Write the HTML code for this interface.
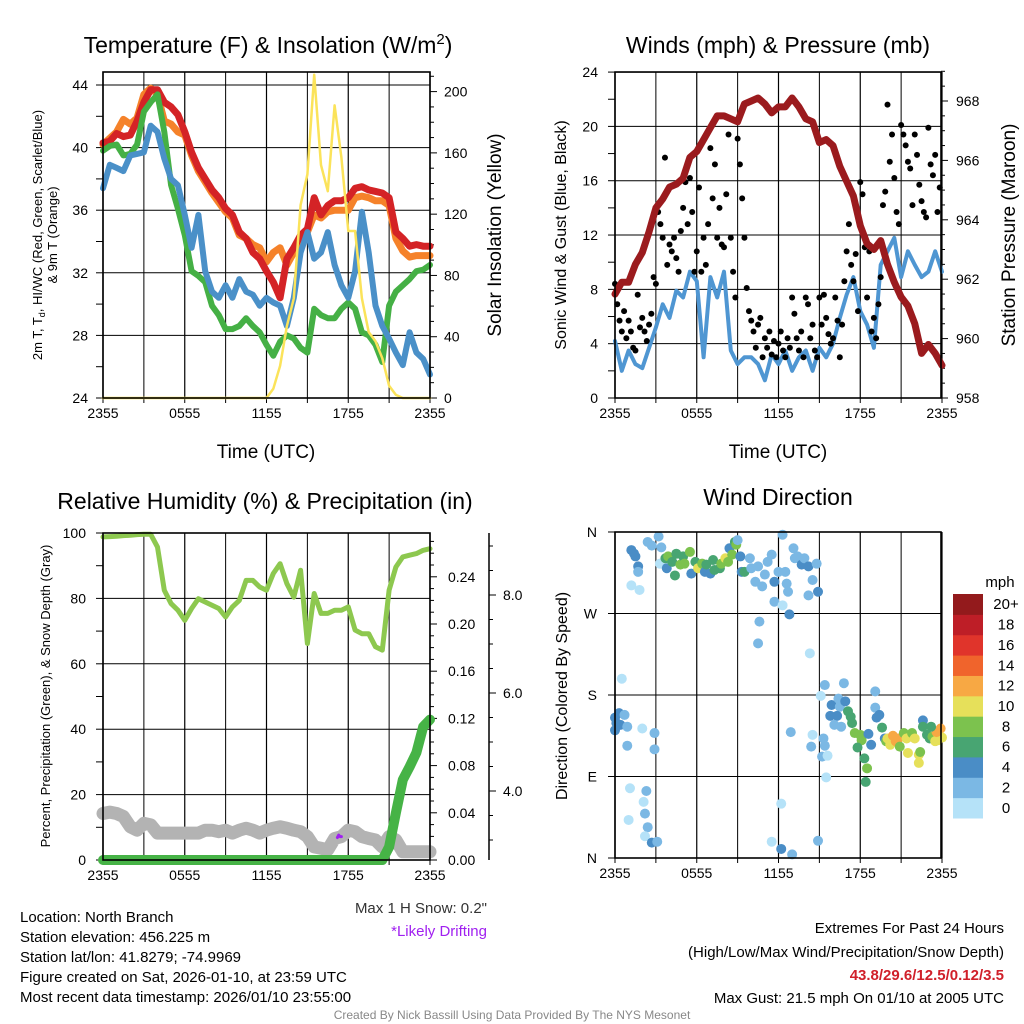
<!DOCTYPE html>
<html><head><meta charset="utf-8"><style>
html,body{margin:0;padding:0;background:#fff}
svg{display:block}
text{font-family:"Liberation Sans",Arial,sans-serif;fill:#000}
</style></head><body>
<svg id="fig" width="1024" height="1024" viewBox="0 0 1024 1024" xmlns="http://www.w3.org/2000/svg">
<g id="static">
<text x="268" y="53" font-size="23" text-anchor="middle">Temperature (F) &amp; Insolation (W/m<tspan dy="-9" font-size="15">2</tspan><tspan dy="9">)</tspan></text>
<text x="778" y="53" font-size="23" text-anchor="middle">Winds (mph) &amp; Pressure (mb)</text>
<text x="265" y="509" font-size="23" text-anchor="middle">Relative Humidity (%) &amp; Precipitation (in)</text>
<text x="778" y="505" font-size="23" text-anchor="middle">Wind Direction</text>
<text x="266" y="458" font-size="19" text-anchor="middle">Time (UTC)</text>
<text x="778" y="458" font-size="19" text-anchor="middle">Time (UTC)</text>
<text transform="translate(501,235) rotate(-90)" font-size="19" text-anchor="middle">Solar Insolation (Yellow)</text>
<text transform="translate(1015,235) rotate(-90)" font-size="19" text-anchor="middle">Station Pressure (Maroon)</text>
<text transform="translate(566,235) rotate(-90)" font-size="16" text-anchor="middle">Sonic Wind &amp; Gust (Blue, Black)</text>
<text transform="translate(42,235) rotate(-90)" font-size="13" text-anchor="middle">2m T, T<tspan dy="3" font-size="9">d</tspan><tspan dy="-3">, HI/WC (Red, Green, Scarlet/Blue)</tspan></text>
<text transform="translate(57,235) rotate(-90)" font-size="13" text-anchor="middle">&amp; 9m T (Orange)</text>
<text transform="translate(50,696) rotate(-90)" font-size="13" text-anchor="middle">Percent, Precipitation (Green), &amp; Snow Depth (Gray)</text>
<text transform="translate(567,696) rotate(-90)" font-size="16" text-anchor="middle">Direction (Colored By Speed)</text>
<text x="1000" y="587" font-size="15" text-anchor="middle">mph</text>
<text x="487" y="913" font-size="15" text-anchor="end" style="fill:#333">Max 1 H Snow: 0.2"</text>
<text x="487" y="936" font-size="15" text-anchor="end" style="fill:#a020f0">*Likely Drifting</text>
<g font-size="15">
<text x="20" y="922">Location: North Branch</text>
<text x="20" y="942">Station elevation: 456.225 m</text>
<text x="20" y="962">Station lat/lon: 41.8279; -74.9969</text>
<text x="20" y="982">Figure created on Sat, 2026-01-10, at 23:59 UTC</text>
<text x="20" y="1002">Most recent data timestamp: 2026/01/10 23:55:00</text>
</g>
<g font-size="15" text-anchor="end">
<text x="1004" y="933">Extremes For Past 24 Hours</text>
<text x="1004" y="957">(High/Low/Max Wind/Precipitation/Snow Depth)</text>
<text x="1004" y="980" font-weight="bold" style="fill:#d0202a">43.8/29.6/12.5/0.12/3.5</text>
<text x="1004" y="1003">Max Gust: 21.5 mph On 01/10 at 2005 UTC</text>
</g>
<text x="512" y="1019" font-size="12" text-anchor="middle" style="fill:#888">Created By Nick Bassill Using Data Provided By The NYS Mesonet</text>
</g>
</svg>
<script>
// ---------- data ----------
const t30 = []; // half-hour time axis built below (hours since 2355)
const xTickLabels = ["2355","0555","1155","1755","2355"];
const tempRed = [40.3,40.4,40.9,40.7,40.8,41.7,42.9,43.7,43.7,42.9,42.6,42.1,41.0,39.7,38.7,38.0,37.3,36.8,36.1,35.7,34.6,34.2,33.3,32.9,32.1,31.4,30.4,32.9,33.6,34.4,34.8,36.8,35.7,36.3,36.6,36.6,36.8,37.4,37.5,37.3,37.2,37.1,36.8,34.6,34.2,33.7,33.8,33.7,33.7];
const temp9m = [40.2,40.6,41.0,41.8,41.5,41.9,43.4,43.8,43.4,41.7,41.5,41.0,40.8,39.5,38.5,37.8,37.1,36.5,35.9,35.5,34.4,34.2,33.8,33.6,32.7,33.3,33.6,32.5,33.3,34.2,34.6,35.7,35.5,35.9,36.0,36.0,36.0,36.8,36.9,36.8,36.6,36.6,36.3,34.2,33.4,33.0,33.1,33.1,33.1];
const dewpoint = [39.8,40.1,40.2,39.5,39.6,40.2,42.3,42.9,43.4,41.0,37.6,36.1,34.4,32.1,31.8,31.4,29.9,29.3,28.4,28.4,28.6,29.1,28.6,28.2,27.4,26.7,27.6,28.0,27.8,27.2,26.9,29.7,29.3,29.1,29.1,29.7,30.1,29.7,28.2,28.0,27.4,26.3,29.9,30.8,31.2,31.6,32.1,32.2,32.5];
const windChill = [37.4,38.9,38.7,38.5,39.5,39.6,39.7,41.4,41.0,39.3,38.0,37.6,35.7,33.6,35.7,32.1,30.8,30.4,31.2,30.4,31.6,30.8,30.6,29.9,30.4,30.1,29.9,28.6,30.4,33.3,34.6,32.9,33.3,34.6,32.5,31.2,30.4,32.1,35.9,33.3,29.9,28.6,27.8,26.9,26.1,28.2,26.9,26.5,25.5];
const solar = [0,0,0,0,0,0,0,0,0,0,0,0,0,0,0,0,0,0,0,0,0,0,0,0,0,6,21,47,65,126,146,211,152,135,191,157,109,109,65,43,37,26,8,2,0,0,0,0,0];
const pressure = [961.5,961.9,961.9,962.5,962.9,963.6,964.4,964.7,965.1,965.2,965.4,966.1,966.3,966.7,967.1,967.5,967.5,967.4,967.3,967.9,968.0,968.1,967.9,967.6,967.8,967.8,968.1,967.8,967.4,967.3,966.6,966.7,966.5,965.8,965.3,964.8,963.8,963.2,963.0,963.3,962.5,961.9,961.4,961.1,960.5,959.5,959.8,959.5,959.1];
const sonicWind = [4.2,2.0,3.5,2.5,2.2,3.7,5.2,6.9,5.9,7.9,7.4,9.3,8.6,3.0,8.9,7.4,9.3,3.5,2.5,3.0,3.0,2.5,1.3,3.2,2.5,3.5,2.0,3.0,3.5,2.0,3.7,3.0,4.0,5.9,7.6,8.9,6.4,5.4,3.7,9.8,10.8,11.8,8.9,10.8,9.8,8.9,9.3,10.8,9.3];
const gust = [8.4,6.9,5.7,4.9,6.4,4.4, 5.7,4.9,3.7,3.5,7.6,5.2, 5.9,4.9,4.2,5.4,6.2,8.9, 8.4,13.7,12.8,11.8,17.7,9.8, 11.3,10.8,11.8,10.3,9.3,12.3, 14.0,15.9,12.8,16.2,13.7,9.3, 10.8,15.5,9.3,11.8,9.8,12.8, 18.4,14.7,17.2,11.8,14.0,11.3, 11.1,15.0,19.4,11.8,9.3,7.4, 19.1,17.2,14.7,11.8,8.1,6.4, 5.7,4.9,3.7,5.4,5.9,3.0, 4.4,3.7,4.9,3.2,4.2,3.0, 4.0,4.9,3.5,3.0,4.4,3.7, 7.4,6.2,4.4,3.5,4.9,3.0, 7.4,6.9,4.4,5.4,3.5,3.0, 7.4,5.4,7.6,5.9,4.7,4.0, 4.4,7.4,5.7,3.0,5.4,8.6, 10.8,12.8,9.8,8.6,10.6,6.4, 15.9,15.0,11.1,7.4,10.8,4.9, 5.9,4.4,6.9,8.9,14.2,15.2, 21.6,17.4,19.4,16.2,13.7,12.8, 20.1,19.4,18.6,17.4,16.9,14.2, 19.4,17.9,15.7,14.5,13.7,13.3, 19.9,17.2,16.4,17.9,13.7,15.5];
const humidity = [98.8,98.9,99.0,99.2,99.3,99.5,99.6,99.6,95.7,82.5,78.4,76.4,73.3,76.9,79.9,78.9,77.9,76.9,74.3,77.4,79.4,85.5,85.5,83.5,82.5,87.6,90.6,84.5,80.4,88.6,66.2,81.5,75.4,75.4,76.4,76.4,77.4,70.3,69.2,69.2,65.2,64.2,82.5,89.6,92.7,93.2,93.7,94.7,95.2];
const precip = [0,0,0,0,0,0,0,0,0,0,0,0,0,0,0,0,0,0,0,0,0,0,0,0,0,0,0,0,0,0,0,0,0,0,0,0,0,0,0,0,0,0,0.011,0.04,0.068,0.079,0.091,0.113,0.119];
const snowDepth = [3.54,3.57,3.54,3.48,3.27,3.20,3.34,3.31,3.14,3.14,3.14,3.14,3.14,3.14,3.14,3.20,3.20,3.17,3.20,3.14,3.20,3.24,3.20,3.14,3.20,3.24,3.27,3.24,3.20,3.17,3.07,2.86,2.83,2.80,3.03,3.07,3.20,3.17,3.07,3.03,3.00,2.86,3.07,3.00,2.76,2.76,2.76,2.76,2.76];
const driftTimes = [17.2,17.3,17.4,17.5];
const driftDepth = [3.05,3.10,3.07,3.07];
const dirTime = [1.2,1.4,1.5,1.7,1.7,1.2,1.8,2.4,2.7,3.2,3.4,3.3,3.7,3.9,3.8,4.2,4.4,4.5,4.8,5.0,5.1,5.5,5.6,5.9,6.1,6.4,6.6,6.7,7.0,7.2,7.3,7.7,7.8,8.1,8.3,8.4,8.6,8.8,8.9,9.0,9.2,9.3,9.5,9.9,10.0,10.3,10.5,10.8,11.0,11.2,11.5,11.7,12.0,12.3,12.6,12.7,12.5,13.1,13.2,13.4,13.7,13.9,14.2,14.5,14.8,14.9,14.2,11.7,12.3,12.8,10.6,10.5,14.3,0.5,0.3,0.0,0.1,0.4,0.7,0.9,0.0,2.0,2.9,0.9,2.9,1.1,2.3,2.1,2.2,1.0,2.4,2.2,2.7,3.1,11.5,12.2,13.0,12.2,14.9,12.9,14.5,14.4,15.3,15.4,15.2,15.6,15.5,15.4,16.8,19.1,15.1,15.9,16.4,16.5,16.9,15.8,16.3,16.1,16.6,17.1,17.3,17.4,17.6,18.0,18.1,17.8,18.6,18.8,18.3,18.5,18.4,19.1,19.2,19.4,19.6,19.8,19.9,20.0,20.2,20.4,20.6,20.8,20.9,21.2,21.4,21.7,21.5,21.8,22.0,22.3,22.4,22.3,22.6,22.6,22.9,23.1,23.3,23.5,23.7,23.9,24.0,23.6,23.2];
const dirDeg = [340,336,333,322,316,301,296,349,345,355,343,325,331,333,320,327,312,336,324,333,325,338,314,327,320,325,316,324,314,329,318,320,325,331,327,342,335,349,346,351,333,316,316,331,320,305,322,300,313,327,335,305,316,357,303,294,316,342,331,333,324,331,322,307,325,294,290,283,279,269,261,237,226,198,160,155,149,147,158,145,141,143,138,124,120,77,74,62,49,42,34,24,17,18,18,10,4,60,19,139,136,123,132,124,112,113,89,191,193,184,179,169,176,167,173,157,157,147,145,162,156,149,138,136,130,122,137,125,110,99,84,166,155,158,144,132,129,132,125,135,129,132,123,138,132,134,116,138,132,114,117,105,152,145,136,132,134,129,130,143,133,139,145];
const dirSpeed = [5,5,5,5,3,1,1,3,3,3,3,1,7,9,5,7,7,7,9,7,9,9,5,7,11,9,5,7,5,7,7,7,9,11,9,5,9,7,9,3,5,5,7,3,3,3,3,3,3,3,3,5,3,3,3,3,3,3,3,3,5,3,5,3,3,5,3,3,1,5,3,3,1,1,5,5,5,5,3,3,5,1,3,3,3,1,3,1,3,1,3,1,5,3,1,5,3,1,3,3,1,3,3,3,3,1,1,3,3,3,1,5,3,3,5,5,5,3,3,7,7,7,9,9,9,7,5,5,7,9,7,3,5,5,7,5,9,11,11,13,13,13,9,9,11,11,11,9,11,11,9,11,5,7,7,7,9,11,11,13,11,13,7];
const speedBins = ["0","2","4","6","8","10","12","14","16","18","20+"];
const speedColors = ["#b5e2f8","#7bb8e4","#4a8dc6","#48a572","#7cc24e","#e6e05a","#f7a844","#f0642c","#e0342b","#be1e27","#931a1c"];

for (let i = 0; i <= 48; i++) t30.push(i / 2);
const gustTimes = gust.map((v, i) => i / 6);

// ---------- helpers ----------
const NS = "http://www.w3.org/2000/svg";
const svg = document.getElementById("fig");
function mk(tag, attrs, parent) {
  const e = document.createElementNS(NS, tag);
  for (const k in attrs) e.setAttribute(k, attrs[k]);
  (parent || svg).appendChild(e);
  return e;
}
function txt(x, y, s, size, anchor, parent) {
  const e = mk("text", {x: x, y: y, "font-size": size, "text-anchor": anchor}, parent);
  e.textContent = s;
  return e;
}
function polyline(ts, vs, X, Y, color, w, parent) {
  const pts = ts.map((t, i) => X(t).toFixed(1) + "," + Y(vs[i]).toFixed(1)).join(" ");
  return mk("polyline", {points: pts, fill: "none", stroke: color, "stroke-width": w, "stroke-linejoin": "round", "stroke-linecap": "round"}, parent);
}
function frame(x0, y0, x1, y1, X, parent) {
  for (let h = 0; h <= 24; h += 3) {
    const l = mk("line", {x1: X(h), y1: y0, x2: X(h), y2: y1, stroke: "#000", "stroke-width": (h % 6 === 0 ? 1.2 : 1)}, parent);
    
    
    mk("line", {x1: X(h), y1: y1, x2: X(h), y2: y1 + 5, stroke: "#000", "stroke-width": 1}, parent);
  }
  xTickLabels.forEach((s, i) => {
    const e = txt(X(i * 6), y1 + 20, s, 14, "middle", parent);
    
    
  });
}
function hgrid(x0, x1, y, parent) {
  mk("line", {x1: x0, y1: y, x2: x1, y2: y, stroke: "#000", "stroke-width": 1}, parent);
}
function box(x0, y0, x1, y1, parent) {
  mk("rect", {x: x0, y: y0, width: x1 - x0, height: y1 - y0, fill: "none", stroke: "#000", "stroke-width": 1.6}, parent);
}

// ---------- panel 1: temperature ----------
{
  const g = mk("g", {});
  
  
  const X = t => 103 + t * 13.625;
  const YT = v => 398 - (v - 24) * 15.65;
  const YS = v => 398 - v * 1.532;
  frame(103, 72, 430, 398, X, g);
  for (let v = 24; v <= 44; v += 4) {
    hgrid(103, 430, YT(v), g);
    const e = txt(88, YT(v) + 5, String(v), 14, "end", g);
    
    
  }
  for (let v = 24; v <= 44; v += 2) mk("line", {x1: 96, y1: YT(v), x2: 103, y2: YT(v), stroke: "#000"}, g);
  for (let v = 0; v <= 210; v += 10) mk("line", {x1: 430, y1: YS(v), x2: v % 40 === 0 ? 437 : 434, y2: YS(v), stroke: "#000"}, g);
  for (let v = 0; v <= 200; v += 40) {
    const e = txt(444, YS(v) + 5, String(v), 14, "start", g);
    
    
  }
  let l;
  l = polyline(t30, temp9m, X, YT, "#f5822a", 7, g);  
  l = polyline(t30, tempRed, X, YT, "#d42326", 7, g);  
  l = polyline(t30, dewpoint, X, YT, "#45b045", 6, g);  
  l = polyline(t30, windChill, X, YT, "#4a90c8", 6, g);  
  l = polyline(t30, solar, X, YS, "#fbe35a", 2.5, g);  
  box(103, 72, 430, 398, g);
}

// ---------- panel 2: winds ----------
{
  const g = mk("g", {});
  
  
  const X = t => 615 + t * 13.625;
  const YW = v => 398 - v * 13.58;
  const YP = p => 398 - (p - 958) * 29.7;
  frame(615, 72, 941, 398, X, g);
  for (let v = 0; v <= 24; v += 4) {
    hgrid(615, 941, YW(v), g);
    const e = txt(598, YW(v) + 5, String(v), 14, "end", g);
    
    
  }
  for (let v = 0; v <= 24; v += 2) mk("line", {x1: 608, y1: YW(v), x2: 615, y2: YW(v), stroke: "#000"}, g);
  for (let p = 958; p <= 969; p += 0.5) mk("line", {x1: 941, y1: YP(p), x2: p % 2 === 0 ? 948 : 945, y2: YP(p), stroke: "#000"}, g);
  for (let p = 958; p <= 968; p += 2) {
    const e = txt(956, YP(p) + 5, String(p), 14, "start", g);
    
    
  }
  let l = polyline(t30, sonicWind, X, YW, "#4f96d2", 4, g);
   
  gust.forEach((v, i) => {
    const c = mk("circle", {cx: X(gustTimes[i]), cy: YW(v), r: 3, fill: "#000"}, g);
    
    
  });
  l = polyline(t30, pressure, X, YP, "#9b1b1e", 7, g);
   
  box(615, 72, 941, 398, g);
}

// ---------- panel 3: humidity ----------
{
  const g = mk("g", {});
  
  
  const X = t => 103 + t * 13.625;
  const YR = v => 860 - v * 3.27;
  const YP = v => 860 - v * 1180;
  const YS = v => 987 - v * 49;
  frame(103, 533, 430, 860, X, g);
  for (let v = 0; v <= 100; v += 20) {
    hgrid(103, 430, YR(v), g);
    const e = txt(86, YR(v) + 5, String(v), 14, "end", g);
    
    
  }
  for (let v = 0; v <= 100; v += 10) mk("line", {x1: 96, y1: YR(v), x2: 103, y2: YR(v), stroke: "#000"}, g);
  for (let k = 0; k <= 27; k++) { const v = k / 100; mk("line", {x1: 430, y1: YP(v), x2: k % 4 === 0 ? 437 : 434, y2: YP(v), stroke: "#000"}, g); }
  for (let k = 0; k <= 24; k += 4) {
    const e = txt(448, YP(k / 100) + 5, (k / 100).toFixed(2), 14, "start", g);
    
    
  }
  const ax = mk("line", {x1: 489, y1: 533, x2: 489, y2: 860, stroke: "#000", "stroke-width": 1.5}, g);
  
  
  for (let k = 6; k <= 18; k++) { const v = k / 2; mk("line", {x1: 489, y1: YS(v), x2: k % 4 === 0 ? 496 : 493, y2: YS(v), stroke: "#000"}, g); }
  [4, 6, 8].forEach(v => {
    const e = txt(503, YS(v) + 5, v.toFixed(1), 14, "start", g);
    
    
  });
  let l = polyline(t30, snowDepth, X, YS, "#b3b3b3", 13, g);
   
  l = polyline(driftTimes, driftDepth, X, YS, "#a020f0", 3, g);
   
  l = polyline(t30, precip, X, YP, "#46b346", 10, g);
   
  l = polyline(t30, humidity, X, YR, "#8dc84f", 5, g);
   
  box(103, 533, 430, 860, g);
}

// ---------- panel 4: wind direction ----------
{
  const g = mk("g", {});
  
  
  const X = t => 615 + t * 13.625;
  const Y = d => 858 - d * 0.9056;
  frame(615, 532, 941, 858, X, g);
  const dirLabels = ["N", "E", "S", "W", "N"];
  dirLabels.forEach((s, i) => {
    hgrid(615, 941, Y(i * 90), g);
    mk("line", {x1: 608, y1: Y(i * 90), x2: 615, y2: Y(i * 90), stroke: "#000"}, g);
    const e = txt(597, Y(i * 90) + 5, s, 14, "end", g);
    
    
  });
  dirTime.forEach((t, i) => {
    const bin = Math.min(10, Math.floor(dirSpeed[i] / 2));
    const c = mk("circle", {cx: X(t), cy: Y(dirDeg[i]), r: 5, fill: speedColors[bin]}, g);
    
    
  });
  box(615, 532, 941, 858, g);
  const cb = mk("g", {});
  
  
  const bh = (818 - 594) / speedBins.length;
  speedBins.forEach((s, i) => {
    const y = 818 - (i + 1) * bh;
    const r = mk("rect", {x: 953, y: y, width: 30, height: bh + 0.5, fill: speedColors[i]}, cb);
    
    
    const e = txt(1006, y + bh / 2 + 5, s, 15, "middle", cb);
    
    
  });
}
</script>
</body></html>
